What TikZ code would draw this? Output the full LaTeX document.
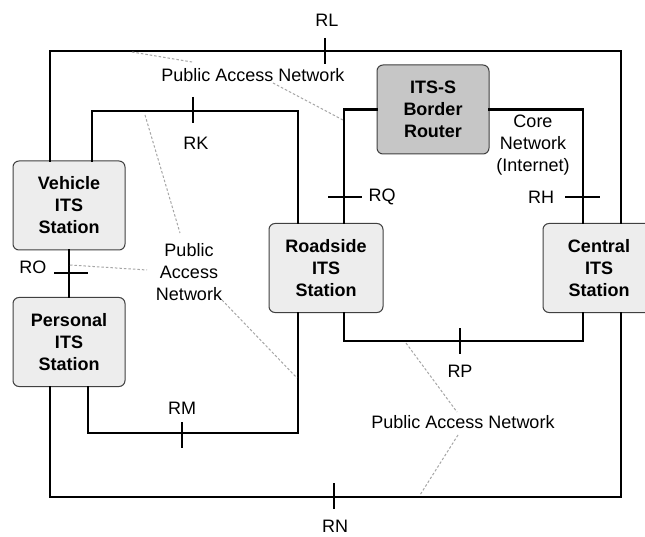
\documentclass[tikz,border=0pt]{standalone}
\usepackage{fontspec}
\setmainfont{Liberation Sans}
\begin{document}
\begin{tikzpicture}[x=1pt,y=-1pt,
  stn/.style={rectangle, rounded corners=6pt, draw=black!75, line width=1pt,
    fill=gray!14, minimum width=112pt, minimum height=89pt, align=center,
    font=\fontsize{18}{22}\selectfont\bfseries, inner sep=0pt},
  rtr/.style={stn, fill=gray!45},
  link/.style={line width=2.9pt, line cap=rect},
  tick/.style={line width=1.3pt},
  lbl/.style={font=\fontsize{18}{22}\selectfont, align=center, inner sep=0pt},
  pan/.style={draw=gray!70, line width=1pt, dash pattern=on 2.5pt off 2pt}]
\useasboundingbox (0,0) rectangle (645,537);
\clip (0,0) rectangle (645,537);
\fill[white] (0,0) rectangle (645,537);

% stations
\node[stn] (veh) at (69,205.5) {Vehicle\\ITS\\Station};
\node[stn] (per) at (69,342) {Personal\\ITS\\Station};
\node[stn, minimum width=114pt] (road) at (326,268) {Roadside\\ITS\\Station};
\node[rtr] (rtr) at (433,109.5) {ITS-S\\Border\\Router};
\node[stn] (cen) at (599,268) {Central\\ITS\\Station};

% corner coordinates
\coordinate (o1) at (50,51);
\coordinate (o2) at (621,51);
\coordinate (o3) at (621,497);
\coordinate (o4) at (50,497);
\coordinate (i1) at (92,111);
\coordinate (i2) at (298,111);
\coordinate (i3) at (298,433);
\coordinate (i4) at (88,433);
\coordinate (r1) at (344,108);
\coordinate (r2) at (583,108);
\coordinate (b1) at (344,341);
\coordinate (b2) at (583,341);

% links
\draw[link] (veh.north -| o1) -- (o1) -- (o2) -- (cen.north -| o2);
\draw[link] (per.south -| o4) -- (o4) -- (o3) -- (cen.south -| o3);
\draw[link] (veh.north -| i1) -- (i1) -- (i2) -- (road.north -| i2);
\draw[link] (per.south -| i4) -- (i4) -- (i3) -- (road.south -| i3);
\draw[link] (rtr.west) -- (rtr.west -| r1) -- (road.north -| r1);
\draw[link] (rtr.east) -- (rtr.east -| r2) -- (cen.north -| r2);
\draw[link] (road.south -| b1) -- (b1) -- (b2) -- (cen.south -| b2);
\draw[link] (veh.south) -- (per.north);

% reference point ticks
\coordinate (tLa) at (325,38);  \coordinate (tLb) at (325,64);
\coordinate (tKa) at (193,97);  \coordinate (tKb) at (193,123);
\coordinate (tMa) at (182,422); \coordinate (tMb) at (182,448);
\coordinate (tNa) at (334,483); \coordinate (tNb) at (334,509);
\coordinate (tPa) at (460,328); \coordinate (tPb) at (460,354);
\coordinate (tQa) at (328,197); \coordinate (tQb) at (362,197);
\coordinate (tHa) at (565,197); \coordinate (tHb) at (600,197);
\coordinate (tOa) at (54,273);  \coordinate (tOb) at (88,273);
\foreach \t in {L,K,M,N,P,Q,H,O} \draw[tick] (t\t a) -- (t\t b);

% reference point labels
\node[lbl] (lRL) at (327,20) {RL};
\node[lbl] (lRK) at (196,143) {RK};
\node[lbl] (lRM) at (182,408) {RM};
\node[lbl] (lRN) at (335,526) {RN};
\node[lbl] (lRP) at (460,371) {RP};
\node[lbl] (lRQ) at (382,197) {RQ};
\node[lbl] (lRH) at (541,197) {RH};
\node[lbl] (lRO) at (33,267) {RO};

% network labels
\node[lbl] (pan1) at (253,75) {Public Access Network};
\node[lbl] (pan2) at (189,272) {Public\\Access\\Network};
\node[lbl] (core) at (533,145) {Core\\Network\\(Internet)};
\node[lbl] (pan3) at (463,422) {Public Access Network};

% dashed network indicators
\coordinate (d1a) at (132,52);  \coordinate (d1b) at (192,62);
\coordinate (d2a) at (273,83);  \coordinate (d2b) at (343,120);
\coordinate (d3a) at (145,115); \coordinate (d3b) at (180,233);
\coordinate (d4a) at (70,265);  \coordinate (d4b) at (147,270);
\coordinate (d5a) at (222,300); \coordinate (d5b) at (297,378);
\coordinate (d6a) at (406,343); \coordinate (d6b) at (457,412);
\coordinate (d7a) at (458,435); \coordinate (d7b) at (420,495);
\foreach \d in {1,...,7} \draw[pan] (d\d a) -- (d\d b);
\end{tikzpicture}
\end{document}
